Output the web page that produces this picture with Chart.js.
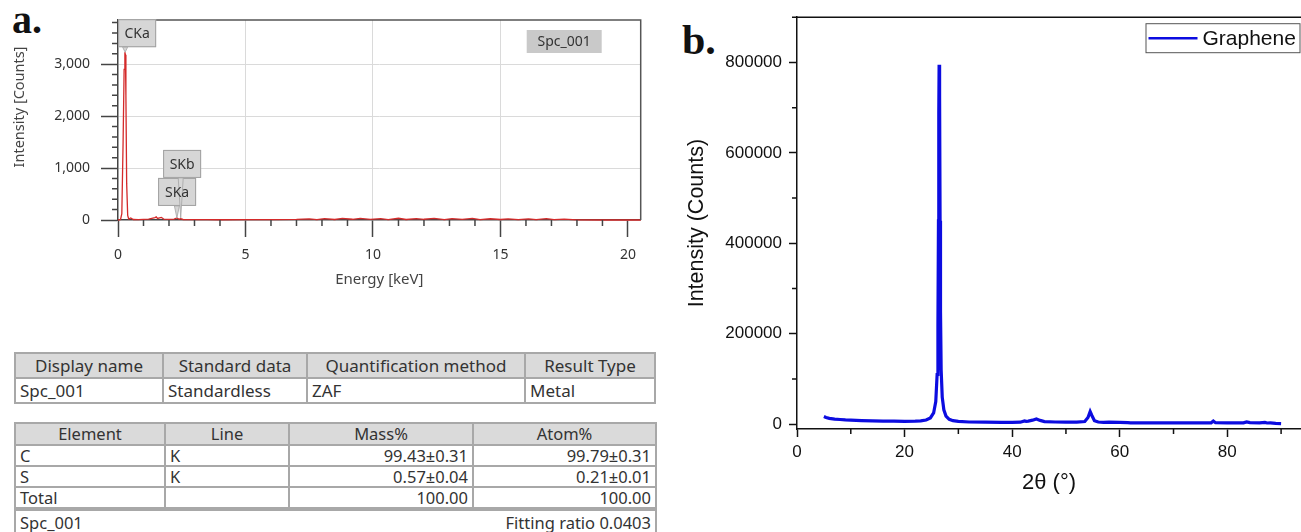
<!DOCTYPE html>
<html>
<head>
<meta charset="utf-8">
<title>EDS and XRD of graphene</title>
<script src="https://cdn.jsdelivr.net/npm/chart.js@4.4.1/dist/chart.umd.min.js"></script>
<style>
  html, body { margin: 0; padding: 0; background: #fff; }
  body { width: 1301px; height: 532px; position: relative; overflow: hidden; }
  .tag { position: absolute; font-family: 'Liberation Serif', 'Times New Roman', serif; font-weight: bold; line-height: 1; color: #111; }
  #edsBox { position: absolute; left: 0; top: 0; width: 660px; height: 300px; }
  #xrdBox { position: absolute; left: 660px; top: 0; width: 641px; height: 532px; }
  table.eds { position: absolute; left: 14px; border-collapse: collapse; table-layout: fixed;
              font-family: 'Noto Sans', 'Open Sans', sans-serif; color: #333; }
  table.eds td, table.eds th { border: 2px solid #a8a8a8; padding: 0 4px; white-space: nowrap; overflow: hidden; font-weight: normal; }
  table.eds th { background: #dadada; text-align: center; }
  #infoTable { top: 352px; font-size: 17px; }
  #infoTable th, #infoTable td { height: 23px; line-height: 23px; }
  #quantTable { top: 422px; font-size: 16.5px; }
  #quantTable th { height: 20px; line-height: 20px; }
  #quantTable td { height: 19px; line-height: 19px; }
  #quantTable td.num { text-align: right; }
  #quantTable tr.foot td { border-top: 4px solid #a8a8a8; height: 24px; line-height: 24px; }
  #quantTable tr.foot span.r { float: right; }
</style>
</head>
<body>
<div class="tag" style="left:12px; top:0px; font-size:40px;">a.</div>
<div class="tag" style="left:682px; top:19px; font-size:42px;">b.</div>

<div id="edsBox"><canvas id="edsChart" width="660" height="300"></canvas></div>
<div id="xrdBox"><canvas id="xrdChart" width="641" height="532"></canvas></div>

<table class="eds" id="infoTable"></table>
<table class="eds" id="quantTable"></table>

<script>
// EDS spectrum (energy in keV, intensity in counts)
const edsEnergy = [0, 0.1, 0.15, 0.2, 0.24, 0.27, 0.29, 0.31, 0.34, 0.38, 0.42, 0.5, 0.55, 0.6, 0.8,
  1.0, 1.2, 1.45, 1.5, 1.55, 1.7, 1.75, 1.8, 2.0, 2.2, 2.31, 2.4, 2.46, 2.55, 3.0, 3.5, 4, 5, 6, 7,
  7.5, 7.8, 8.1, 8.5, 8.8, 9.2, 9.5, 9.9, 10.3, 10.6, 11, 11.3, 11.7, 12, 12.4, 12.8, 13.1, 13.5,
  13.9, 14.2, 14.6, 15, 15.3, 15.7, 16.1, 16.4, 16.8, 17.1, 17.5, 18, 19, 20, 20.5];
const edsCounts = [0, 10, 120, 1500, 2900, 3230, 3180, 2400, 700, 90, 20, 40, 25, 10, 8,
  12, 15, 45, 60, 30, 50, 35, 15, 12, 18, 40, 15, 25, 10, 8, 6, 5, 6, 8, 12,
  22, 8, 28, 10, 30, 14, 32, 12, 26, 8, 34, 10, 28, 14, 30, 8, 26, 12, 30, 6,
  24, 10, 22, 6, 20, 8, 26, 6, 18, 3, 0, 0, 0];

// identified lines: name, energy (keV), counts at the marker
const peakNames = ['CKa', 'SKb', 'SKa'];
const peakEnergy = [0.28, 2.46, 2.31];
const peakCounts = [3230, 40, 40];
const spectrumName = 'Spc_001';

// XRD pattern (2θ in degrees, intensity in counts)
const twoTheta = [5, 5.4, 6, 7, 8, 9, 10, 12, 14, 16, 18, 20, 22, 23, 24, 24.8, 25.4, 25.8, 26.05,
  26.2, 26.3, 26.36, 26.42, 26.48, 26.54, 26.6, 26.68, 26.8, 27.0, 27.3, 27.7, 28.3, 29, 30, 32,
  35, 38, 40, 41.5, 42.3, 42.6, 43, 43.8, 44.5, 45.2, 46, 48, 50, 52, 53.5, 54.1, 54.5, 54.8,
  55.3, 56, 57, 58, 60, 61.5, 62, 65, 70, 75, 77, 77.4, 77.8, 80, 83, 83.6, 84.2, 86, 87, 87.4,
  88, 89, 90];
const xrdCounts = [17000, 15000, 13000, 11500, 10500, 9500, 9000, 8200, 7500, 7000, 6800, 6500,
  6800, 7500, 9500, 14000, 25000, 50000, 110000, 220000, 450000, 690000, 795000, 790000, 725000,
  450000, 250000, 120000, 60000, 32000, 18000, 11000, 8000, 6500, 5000, 4500, 4000, 4000, 4500,
  7500, 6500, 7000, 9000, 11500, 8500, 6000, 5000, 4500, 4500, 6000, 15000, 28000, 20000, 8000,
  5000, 4000, 4500, 4000, 3500, 3000, 3000, 3000, 3000, 3200, 7000, 3500, 3000, 3000, 5000,
  3500, 3000, 4000, 2800, 3000, 2000, 1500];
const xrdLabel = 'Graphene';

// quantification tables
const infoHeaders = ['Display name', 'Standard data', 'Quantification method', 'Result Type'];
const infoValues = ['Spc_001', 'Standardless', 'ZAF', 'Metal'];
const quantHeaders = ['Element', 'Line', 'Mass%', 'Atom%'];
const elements = ['C', 'S', 'Total'];
const lineNames = ['K', 'K', ''];
const massPct = ['99.43±0.31', '0.57±0.04', '100.00'];
const atomPct = ['99.79±0.31', '0.21±0.01', '100.00'];
const fittingRatio = '0.0403';

(function(){
    const sans = "'Noto Sans', 'Open Sans', sans-serif";
    const arial = "'Liberation Sans', Arial, sans-serif";

    // ---------- tables ----------
    function buildTables(){
        const info = document.getElementById('infoTable');
        const infoWidths = [148, 144, 218, 130];
        let html = '<colgroup>' + infoWidths.map(w => '<col style="width:' + w + 'px">').join('') + '</colgroup>';
        html += '<tr>' + infoHeaders.map(h => '<th>' + h + '</th>').join('') + '</tr>';
        html += '<tr>' + infoValues.map(v => '<td>' + v + '</td>').join('') + '</tr>';
        info.innerHTML = html;

        const quant = document.getElementById('quantTable');
        const quantWidths = [150, 124, 184, 183];
        html = '<colgroup>' + quantWidths.map(w => '<col style="width:' + w + 'px">').join('') + '</colgroup>';
        html += '<tr>' + quantHeaders.map(h => '<th>' + h + '</th>').join('') + '</tr>';
        elements.forEach((el, i) => {
            html += '<tr><td>' + el + '</td><td>' + lineNames[i] + '</td><td class="num">' + massPct[i] +
                    '</td><td class="num">' + atomPct[i] + '</td></tr>';
        });
        html += '<tr class="foot"><td colspan="4">' + spectrumName +
                '<span class="r">Fitting ratio ' + fittingRatio + '</span></td></tr>';
        quant.innerHTML = html;
    }

    // ---------- EDS spectrum ----------
    // minor ticks, top/right frame, peak callouts and spectrum name tag
    const edsExtras = {
        id: 'edsExtras',
        afterDraw(chart){
            const {ctx, chartArea: a, scales: {x, y}} = chart;
            ctx.save();

            ctx.strokeStyle = '#444';
            ctx.lineWidth = 1.5;
            ctx.beginPath();
            x.ticks.forEach(t => {
                if(t.value % 5 !== 0){
                    const px = x.getPixelForValue(t.value);
                    ctx.moveTo(px, a.bottom); ctx.lineTo(px, a.bottom + 6);
                }
            });
            y.ticks.forEach(t => {
                if(t.value % 1000 !== 0){
                    const py = y.getPixelForValue(t.value);
                    ctx.moveTo(a.left - 6, py); ctx.lineTo(a.left, py);
                }
            });
            ctx.stroke();

            ctx.strokeStyle = '#555';
            ctx.beginPath();
            ctx.moveTo(a.left, a.top); ctx.lineTo(a.right, a.top); ctx.lineTo(a.right, a.bottom);
            ctx.stroke();

            // callout boxes: offset of the box's top-left corner from the marked point
            const boxOffset = { CKa: [-7, -33], SKb: [-17.6, -68], SKa: [-18.8, -40] };
            const bw = 38, bh = 28;
            const anchors = peakNames.map((n, i) => ({
                name: n,
                ax: x.getPixelForValue(peakEnergy[i]),
                ay: y.getPixelForValue(peakCounts[i])
            }));
            anchors.forEach(p => {
                const [dx, dy] = boxOffset[p.name];
                const bx = p.ax + dx, by = p.ay + dy;
                ctx.fillStyle = '#d6d6d6';
                ctx.strokeStyle = '#a0a0a0';
                ctx.lineWidth = 1;
                ctx.fillRect(bx, by, bw, bh);
                ctx.strokeRect(bx + 0.5, by + 0.5, bw - 1, bh - 1);
            });
            // pointers from each box down to its line
            anchors.forEach(p => {
                const [, dy] = boxOffset[p.name];
                const bottom = p.ay + dy + bh;
                ctx.beginPath();
                ctx.moveTo(p.ax - 2.5, bottom);
                ctx.lineTo(p.ax + 2.5, bottom);
                ctx.lineTo(p.ax, p.ay);
                ctx.closePath();
                ctx.fillStyle = '#d6d6d6';
                ctx.fill();
                ctx.strokeStyle = '#a5a5a5';
                ctx.lineWidth = 0.8;
                ctx.stroke();
            });
            ctx.font = '14px ' + sans;
            ctx.textAlign = 'center';
            ctx.textBaseline = 'middle';
            ctx.fillStyle = '#333';
            anchors.forEach(p => {
                const [dx, dy] = boxOffset[p.name];
                ctx.fillText(p.name, p.ax + dx + bw / 2, p.ay + dy + bh / 2 + 1);
            });

            // spectrum name tag
            const tx = a.right - 114, ty = a.top + 10;
            ctx.fillStyle = '#c9c9c9';
            ctx.fillRect(tx, ty, 75, 23);
            ctx.fillStyle = '#333';
            ctx.fillText(spectrumName, tx + 37.5, ty + 12);

            // rotated y title
            ctx.translate(20, 107);
            ctx.rotate(-Math.PI / 2);
            ctx.font = '14.5px ' + sans;
            ctx.fillStyle = '#444';
            ctx.fillText('Intensity [Counts]', 0, 0);
            ctx.restore();
        }
    };

    function initEds(){
        const canvas = document.getElementById('edsChart');
        if(!canvas) return;
        const points = edsEnergy.map((e, i) => ({x: e, y: edsCounts[i]}));

        new Chart(canvas.getContext('2d'), {
            type: 'line',
            data: {
                datasets: [{
                    data: points,
                    borderColor: '#d42a2a',
                    borderWidth: 1.3,
                    pointRadius: 0,
                    tension: 0,
                    clip: false
                }]
            },
            options: {
                responsive: false,
                animation: false,
                layout: { padding: { top: 20, right: 19.3, bottom: 0, left: 0 } },
                plugins: { legend: { display: false }, tooltip: { enabled: false } },
                scales: {
                    x: {
                        type: 'linear', min: 0, max: 20.5,
                        afterFit(s){ s.height = 80; },
                        ticks: {
                            stepSize: 1, includeBounds: false, autoSkip: false, maxRotation: 0,
                            padding: 10, color: '#333', font: { family: sans, size: 14 },
                            callback: v => (v % 5 === 0 ? v : '')
                        },
                        grid: {
                            color: c => (c.tick && c.tick.value % 5 === 0 && c.tick.value > 0 && c.tick.value < 20) ? '#dadada' : 'transparent',
                            tickColor: c => (c.tick && c.tick.value % 5 === 0) ? '#444' : 'transparent',
                            tickLength: 17,
                            tickWidth: 1.5
                        },
                        border: { color: '#444', width: 1.5 },
                        title: {
                            display: true, text: 'Energy [keV]', color: '#444',
                            font: { family: sans, size: 15 }, padding: { top: 0, bottom: 11 }
                        }
                    },
                    y: {
                        min: 0, max: 3850,
                        afterFit(s){ s.width = 118; },
                        ticks: {
                            stepSize: 200, includeBounds: false, autoSkip: false,
                            padding: 11, color: '#333', font: { family: sans, size: 14 },
                            callback: v => (v % 1000 === 0 ? v.toLocaleString('en-US') : '')
                        },
                        grid: {
                            color: c => (c.tick && c.tick.value % 1000 === 0 && c.tick.value > 0) ? '#dadada' : 'transparent',
                            tickColor: c => (c.tick && c.tick.value % 1000 === 0) ? '#444' : 'transparent',
                            tickLength: 17,
                            tickWidth: 1.5
                        },
                        border: { color: '#444', width: 1.5 }
                    }
                }
            },
            plugins: [edsExtras]
        });
    }

    // ---------- XRD pattern ----------
    // minor ticks, top frame and boxed legend
    const xrdExtras = {
        id: 'xrdExtras',
        afterDraw(chart){
            const {ctx, chartArea: a, scales: {x, y}} = chart;
            ctx.save();
            ctx.strokeStyle = '#111';
            ctx.lineWidth = 1.5;
            ctx.beginPath();
            x.ticks.forEach(t => {
                if(t.value % 20 !== 0){
                    const px = x.getPixelForValue(t.value);
                    ctx.moveTo(px, a.bottom); ctx.lineTo(px, a.bottom + 5);
                }
            });
            y.ticks.forEach(t => {
                if(t.value % 200000 !== 0){
                    const py = y.getPixelForValue(t.value);
                    ctx.moveTo(a.left - 5, py); ctx.lineTo(a.left, py);
                }
            });
            ctx.moveTo(a.left, a.top); ctx.lineTo(a.right, a.top);
            ctx.stroke();

            // legend box
            const ds = chart.data.datasets[0];
            const lx = a.right - 155.5, ly = a.top + 6, lw = 155, lh = 30;
            ctx.fillStyle = '#fff';
            ctx.fillRect(lx, ly, lw, lh);
            ctx.strokeStyle = '#555';
            ctx.lineWidth = 1;
            ctx.strokeRect(lx + 0.5, ly + 0.5, lw - 1, lh - 1);
            ctx.strokeStyle = ds.borderColor;
            ctx.lineWidth = 2.5;
            ctx.beginPath();
            ctx.moveTo(lx + 3, ly + 15); ctx.lineTo(lx + 52, ly + 15);
            ctx.stroke();
            ctx.fillStyle = '#111';
            ctx.font = '21px ' + arial;
            ctx.textAlign = 'left';
            ctx.textBaseline = 'middle';
            ctx.fillText(ds.label, lx + 57, ly + 16);
            ctx.restore();
        }
    };

    function initXrd(){
        const canvas = document.getElementById('xrdChart');
        if(!canvas) return;
        const points = twoTheta.map((t, i) => ({x: t, y: xrdCounts[i]}));

        new Chart(canvas.getContext('2d'), {
            type: 'line',
            data: {
                datasets: [{
                    label: xrdLabel,
                    data: points,
                    borderColor: '#0c0ce0',
                    borderWidth: 3.2,
                    pointRadius: 0,
                    tension: 0
                }]
            },
            options: {
                responsive: false,
                animation: false,
                layout: { padding: { top: 16, right: 0, bottom: 0, left: 0 } },
                plugins: { legend: { display: false }, tooltip: { enabled: false } },
                scales: {
                    x: {
                        type: 'linear', min: 0, max: 93.7,
                        afterFit(s){ s.height = 103; },
                        ticks: {
                            stepSize: 10, includeBounds: false, autoSkip: false, maxRotation: 0,
                            padding: 5, color: '#111', font: { family: arial, size: 17 },
                            callback: v => (v % 20 === 0 ? v : '')
                        },
                        grid: {
                            drawOnChartArea: false,
                            tickColor: c => (c.tick && c.tick.value % 20 === 0) ? '#111' : 'transparent',
                            tickLength: 8,
                            tickWidth: 1.5
                        },
                        border: { color: '#111', width: 1.5 },
                        title: {
                            display: true, text: '2θ (°)', color: '#111',
                            font: { family: arial, size: 22 }, padding: { top: 0, bottom: 36 }
                        }
                    },
                    y: {
                        min: -10500, max: 900000,
                        // the axis starts slightly below zero; keep the ticks on round counts
                        afterBuildTicks(s){
                            const ticks = [];
                            for(let v = 0; v <= s.max; v += 100000) ticks.push({value: v});
                            s.ticks = ticks;
                        },
                        afterFit(s){ s.width = 137; },
                        ticks: {
                            autoSkip: false,
                            padding: 7, color: '#111', font: { family: arial, size: 17 },
                            callback: v => (v % 200000 === 0 ? String(v) : '')
                        },
                        grid: {
                            drawOnChartArea: false,
                            tickColor: c => (c.tick && c.tick.value % 200000 === 0) ? '#111' : 'transparent',
                            tickLength: 8,
                            tickWidth: 1.5
                        },
                        border: { color: '#111', width: 1.5 },
                        title: {
                            display: true, text: 'Intensity (Counts)', color: '#111',
                            font: { family: arial, size: 21.5 }, padding: { top: 24, bottom: 0 }
                        }
                    }
                }
            },
            plugins: [xrdExtras]
        });
    }

    buildTables();
    initEds();
    initXrd();
})();
</script>
</body>
</html>
